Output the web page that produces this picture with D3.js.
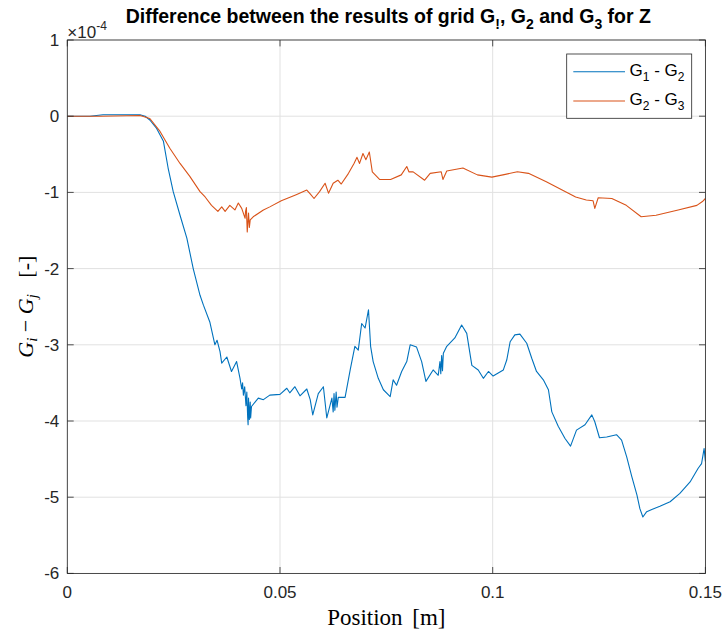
<!DOCTYPE html>
<html>
<head>
<meta charset="utf-8">
<script src="https://cdn.jsdelivr.net/npm/d3@7"></script>
<style>
  html, body { margin: 0; padding: 0; background: #ffffff; }
  svg { display: block; }
</style>
</head>
<body>
<svg id="chart" width="724" height="635"></svg>
<script>
// ---------------- data (y values in units of 1e-4) ----------------
const xTicks = [0, 0.05, 0.1, 0.15];
const xTickLabels = ["0", "0.05", "0.1", "0.15"];
const yTicks = [1, 0, -1, -2, -3, -4, -5, -6];
const yTickLabels = ["1", "0", "-1", "-2", "-3", "-4", "-5", "-6"];
const seriesNames = ["G1 - G2", "G2 - G3"];

const g12X = [0, 0.0053, 0.0084, 0.0124, 0.0171, 0.0183, 0.0194, 0.0210, 0.0226, 0.0237,
  0.0249, 0.0265, 0.0281, 0.0296, 0.0312, 0.0320, 0.0335, 0.0347, 0.0352, 0.0359,
  0.0363, 0.0375, 0.0386, 0.0398, 0.0406, 0.0410, 0.0412, 0.0414, 0.0417, 0.0420,
  0.0422, 0.0424, 0.0425, 0.0426, 0.0428, 0.0430, 0.0431, 0.0433, 0.0449, 0.0461,
  0.0476, 0.0500, 0.0516, 0.0523, 0.0535, 0.0547, 0.0563, 0.0571, 0.0577, 0.0590,
  0.0602, 0.0610, 0.0622, 0.0625, 0.0627, 0.0629, 0.0632, 0.0634, 0.0637, 0.0653,
  0.0665, 0.0676, 0.0684, 0.0692, 0.0700, 0.0708, 0.0713, 0.0719, 0.0731, 0.0743,
  0.0759, 0.0766, 0.0774, 0.0786, 0.0798, 0.0806, 0.0821, 0.0833, 0.0843, 0.0860,
  0.0872, 0.0876, 0.0878, 0.0880, 0.0882, 0.0884, 0.0892, 0.0911, 0.0927, 0.0939,
  0.0951, 0.0966, 0.0978, 0.0990, 0.1001, 0.1025, 0.1033, 0.1041, 0.1052, 0.1064,
  0.1080, 0.1092, 0.1103, 0.1119, 0.1131, 0.1139, 0.1154, 0.1170, 0.1183, 0.1197,
  0.1217, 0.1233, 0.1240, 0.1251, 0.1268, 0.1291, 0.1303, 0.1315, 0.1327, 0.1339,
  0.1346, 0.1353, 0.1362, 0.1374, 0.1393, 0.1417, 0.1440, 0.1464, 0.1483, 0.1491,
  0.1497, 0.1500];
const g12Y = [0, 0.00, 0.02, 0.02, 0.02, 0.00, -0.05, -0.16, -0.33, -0.68,
  -0.99, -1.30, -1.60, -2.00, -2.35, -2.48, -2.70, -3.00, -2.94, -3.09,
  -3.24, -3.16, -3.35, -3.22, -3.44, -3.58, -3.50, -3.66, -3.55, -3.80,
  -3.62, -3.95, -4.05, -3.70, -3.98, -3.75, -3.96, -3.81, -3.70, -3.72,
  -3.66, -3.65, -3.57, -3.63, -3.55, -3.67, -3.58, -3.72, -3.92, -3.64,
  -3.55, -3.96, -3.70, -3.88, -3.64, -3.86, -3.62, -3.82, -3.69, -3.69,
  -3.33, -3.02, -3.07, -2.72, -2.78, -2.54, -3.02, -3.22, -3.44, -3.59,
  -3.68, -3.46, -3.53, -3.35, -3.22, -3.00, -3.03, -3.22, -3.48, -3.33,
  -3.40, -3.22, -3.38, -3.14, -3.34, -3.11, -3.02, -2.91, -2.74, -2.85,
  -3.27, -3.33, -3.44, -3.35, -3.41, -3.33, -3.20, -2.96, -2.87, -2.86,
  -2.98, -3.18, -3.35, -3.46, -3.59, -3.88, -4.07, -4.23, -4.33, -4.12,
  -4.05, -3.92, -4.01, -4.22, -4.21, -4.18, -4.25, -4.47, -4.73, -4.97,
  -5.15, -5.26, -5.19, -5.16, -5.12, -5.06, -4.95, -4.80, -4.62, -4.56,
  -4.36, -4.53];

const g23X = [0, 0.0077, 0.0171, 0.0194, 0.0218, 0.0241, 0.0265, 0.0288, 0.0312, 0.0324,
  0.0339, 0.0354, 0.0363, 0.0371, 0.0382, 0.0394, 0.0402, 0.0410, 0.0418, 0.0419,
  0.0421, 0.0423, 0.0426, 0.0428, 0.0430, 0.0437, 0.0461, 0.0476, 0.0503, 0.0538,
  0.0563, 0.0571, 0.0580, 0.0593, 0.0606, 0.0614, 0.0625, 0.0636, 0.0644, 0.0661,
  0.0674, 0.0681, 0.0687, 0.0695, 0.0702, 0.0710, 0.0717, 0.0734, 0.0760, 0.0785,
  0.0798, 0.0803, 0.0813, 0.0840, 0.0853, 0.0879, 0.0883, 0.0892, 0.0930, 0.0964,
  0.0998, 0.1024, 0.1058, 0.1084, 0.1126, 0.1178, 0.1195, 0.1220, 0.1236, 0.1240,
  0.1248, 0.1280, 0.1314, 0.1349, 0.1384, 0.1436, 0.1480, 0.1493, 0.1500];
const g23Y = [0, 0.00, 0.01, -0.03, -0.20, -0.42, -0.62, -0.79, -0.99, -1.06,
  -1.17, -1.25, -1.19, -1.25, -1.17, -1.23, -1.14, -1.21, -1.34, -1.25,
  -1.20, -1.52, -1.27, -1.46, -1.36, -1.32, -1.23, -1.19, -1.11, -1.03,
  -0.97, -1.02, -1.08, -0.99, -0.88, -1.01, -0.88, -0.84, -0.89, -0.75,
  -0.62, -0.54, -0.62, -0.49, -0.57, -0.47, -0.73, -0.83, -0.83, -0.77,
  -0.66, -0.73, -0.73, -0.84, -0.75, -0.73, -0.83, -0.72, -0.68, -0.77,
  -0.80, -0.77, -0.73, -0.75, -0.86, -1.01, -1.06, -1.10, -1.11, -1.21,
  -1.07, -1.08, -1.17, -1.32, -1.30, -1.23, -1.17, -1.12, -1.08];

// ---------------- layout ----------------
const L = 67.3, R = 705.4, T = 40, B = 573.4;
const axisColor = "#262626";
const gridColor = "#e1e1e1";
const blue = "#0072BD", orange = "#D95319";
const sans = "'Liberation Sans', Arial, Helvetica, sans-serif";
const serif = "'Liberation Serif', 'Times New Roman', serif";

const svg = d3.select("#chart");
const x = d3.scaleLinear().domain([0, 0.15]).range([L, R]);
const y = d3.scaleLinear().domain([-6, 1]).range([B, T]);

// rich text helper: segments [text, isSub, italic]
function rich(t, segs, subSize, shift) {
  let cur = 0;
  segs.forEach(([s, isSub, ital]) => {
    const target = isSub ? shift : 0;
    const ts = t.append("tspan").text(s);
    if (target !== cur) ts.attr("dy", target - cur);
    if (isSub) ts.attr("font-size", subSize);
    if (ital) ts.attr("font-style", "italic");
    cur = target;
  });
}

// grid
const grid = svg.append("g");
grid.selectAll(".gx").data(xTicks).join("line")
  .attr("x1", d => x(d)).attr("x2", d => x(d)).attr("y1", T).attr("y2", B)
  .attr("stroke", gridColor).attr("stroke-width", 1);
grid.selectAll(".gy").data(yTicks).join("line")
  .attr("x1", L).attr("x2", R).attr("y1", d => y(d)).attr("y2", d => y(d))
  .attr("stroke", gridColor).attr("stroke-width", 1);

// lines
const line = d3.line().x(d => x(d[0])).y(d => y(d[1]));
const d12 = g12X.map((v, i) => [v, g12Y[i]]);
const d23 = g23X.map((v, i) => [v, g23Y[i]]);
svg.append("clipPath").attr("id", "clip").append("rect")
  .attr("x", L).attr("y", T).attr("width", R - L).attr("height", B - T);
svg.append("path").datum(d12).attr("d", line).attr("fill", "none")
  .attr("stroke", blue).attr("stroke-width", 1.1).attr("stroke-linejoin", "round")
  .attr("clip-path", "url(#clip)");
svg.append("path").datum(d23).attr("d", line).attr("fill", "none")
  .attr("stroke", orange).attr("stroke-width", 1.1).attr("stroke-linejoin", "round")
  .attr("clip-path", "url(#clip)");

// axes (ticks inward, box on)
const tl = 6.4;
const ax = svg.append("g").attr("stroke", axisColor).attr("stroke-width", 0.8);
ax.append("rect").attr("x", L).attr("y", T).attr("width", R - L).attr("height", B - T)
  .attr("fill", "none");
xTicks.forEach(t => {
  ax.append("line").attr("x1", x(t)).attr("x2", x(t)).attr("y1", B).attr("y2", B - tl);
  ax.append("line").attr("x1", x(t)).attr("x2", x(t)).attr("y1", T).attr("y2", T + tl);
});
yTicks.forEach(t => {
  ax.append("line").attr("x1", L).attr("x2", L + tl).attr("y1", y(t)).attr("y2", y(t));
  ax.append("line").attr("x1", R).attr("x2", R - tl).attr("y1", y(t)).attr("y2", y(t));
});

// tick labels
const tickFont = 17;
svg.append("g").selectAll("text").data(xTicks).join("text")
  .attr("x", d => x(d)).attr("y", B + 25)
  .attr("text-anchor", "middle").attr("font-family", sans).attr("font-size", tickFont)
  .attr("fill", axisColor).text((d, i) => xTickLabels[i]);
svg.append("g").selectAll("text").data(yTicks).join("text")
  .attr("x", L - 8).attr("y", d => y(d) + 6)
  .attr("text-anchor", "end").attr("font-family", sans).attr("font-size", tickFont)
  .attr("fill", axisColor).text((d, i) => yTickLabels[i]);

// exponent label
const ex = svg.append("text").attr("x", L).attr("y", 38)
  .attr("font-family", sans).attr("font-size", 17).attr("fill", axisColor);
ex.append("tspan").text("\u00d710");
ex.append("tspan").attr("dy", -8).attr("font-size", 12).text("-4");

// title
const title = svg.append("text").attr("x", (L + R) / 2 + 2).attr("y", 23)
  .attr("text-anchor", "middle").attr("font-family", sans).attr("font-weight", "bold")
  .attr("font-size", 19.5).attr("fill", "#000");
rich(title, [["Difference between the results of grid G"], ["!", true], [", G"], ["2", true],
  [" and G"], ["3", true], [" for Z"]], 14, 6);

// x label
svg.append("text").attr("x", (L + R) / 2).attr("y", 625)
  .attr("text-anchor", "middle").attr("font-family", serif).attr("font-size", 23)
  .attr("word-spacing", 4).attr("fill", "#000").text("Position [m]");

// y label
const yl = svg.append("text")
  .attr("transform", `translate(33,${(T + B) / 2}) rotate(-90)`)
  .attr("text-anchor", "middle").attr("font-family", serif).attr("font-size", 22)
  .attr("fill", "#000");
rich(yl, [["G", false, true], ["i", true, true], [" \u2212 "], ["G", false, true],
  ["j", true, true], ["\u2002 [-]"]], 15, 4);

// legend
const lg = svg.append("g");
const lgX = 566.7, lgY = 54, lgW = 125, lgH = 64.3;
lg.append("rect").attr("x", lgX).attr("y", lgY).attr("width", lgW).attr("height", lgH)
  .attr("fill", "#fff").attr("stroke", axisColor).attr("stroke-width", 0.8);
const colors = [blue, orange];
const subs = [["1", "2"], ["2", "3"]];
[71.7, 101].forEach((yy, i) => {
  lg.append("line").attr("x1", 573.3).attr("x2", 625).attr("y1", yy).attr("y2", yy)
    .attr("stroke", colors[i]).attr("stroke-width", 1.1);
  const t = lg.append("text").attr("x", 629.5).attr("y", yy + 4)
    .attr("font-family", sans).attr("font-size", 17).attr("fill", "#000")
    .attr("data-name", seriesNames[i]);
  rich(t, [["G"], [subs[i][0], true], [" - G"], [subs[i][1], true]], 12, 5);
});
</script>
</body>
</html>
